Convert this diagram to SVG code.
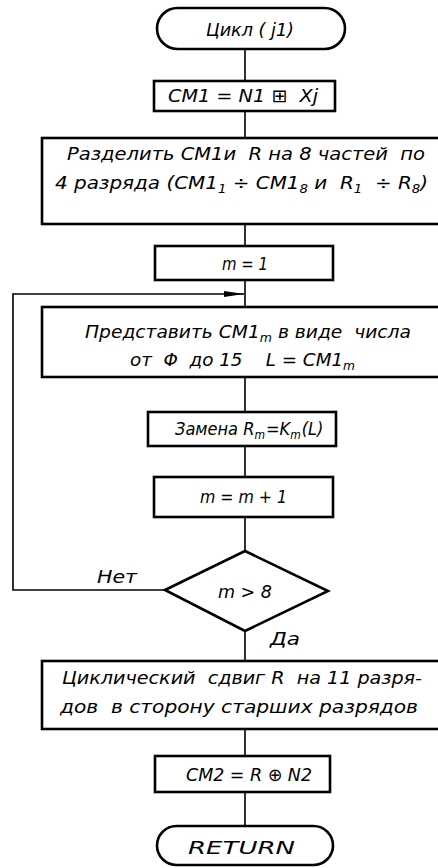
<svg xmlns="http://www.w3.org/2000/svg" width="438" height="868" viewBox="0 0 438 868">
<defs>
<marker id="arr" viewBox="0 0 20 8" refX="20" refY="4" markerWidth="20" markerHeight="8" markerUnits="userSpaceOnUse" orient="auto">
<path d="M0,1 L20,4 L0,7 Z" fill="#000"/>
</marker>
<style>
.s{fill:#fff;stroke:#000;stroke-width:2.6}
.c{fill:none;stroke:#000;stroke-width:1.6}
text{font-family:"DejaVu Sans Condensed","DejaVu Sans","Liberation Sans",sans-serif;font-style:italic;font-size:18px;fill:#000;white-space:pre}
.sub{font-size:12px}
</style>
</defs>
<rect width="438" height="868" fill="#fff"/>
<g id="connectors">
<path class="c" d="M245,49 V81 M245,111 V138 M245,224 V246 M245,280 V307 M245,377 V412 M245,446 V477 M245,517 V551 M245,631 V661 M245,729 V756 M245,792 V826"/>
<path class="c" d="M165,590 H13 V294 H244" marker-end="url(#arr)"/>
</g>
<g id="start">
<rect class="s" x="157" y="8" width="188" height="41" rx="20.5"/>
<text x="206" y="36" textLength="88" lengthAdjust="spacingAndGlyphs">Цикл ( j1)</text>
</g>
<g id="cm1">
<rect class="s" x="154" y="81" width="181" height="30"/>
<text x="168" y="102" textLength="150" lengthAdjust="spacingAndGlyphs">CM1 = N1 ⊞  Xj</text>
</g>
<g id="split">
<rect class="s" x="42" y="138" width="400" height="86"/>
<text x="67" y="160" textLength="358" lengthAdjust="spacingAndGlyphs">Разделить CM1и  R на 8 частей  по</text>
<text x="55" y="189" textLength="373" lengthAdjust="spacingAndGlyphs">4 разряда (CM1<tspan class="sub" dy="4">1</tspan><tspan dy="-4"> ÷ CM1</tspan><tspan class="sub" dy="4">8</tspan><tspan dy="-4"> и  R</tspan><tspan class="sub" dy="4">1</tspan><tspan dy="-4">  ÷ R</tspan><tspan class="sub" dy="4">8</tspan><tspan dy="-4">)</tspan></text>
</g>
<g id="m1">
<rect class="s" x="155" y="246" width="178" height="34"/>
<text x="222" y="270" textLength="46" lengthAdjust="spacingAndGlyphs">m = 1</text>
</g>
<g id="represent">
<rect class="s" x="42" y="307" width="400" height="70"/>
<text x="85" y="338" textLength="326" lengthAdjust="spacingAndGlyphs">Представить CM1<tspan class="sub" dy="4">m</tspan><tspan dy="-4"> в виде  числа</tspan></text>
<text x="130" y="366" textLength="225" lengthAdjust="spacingAndGlyphs">от  Φ  до 15    L = CM1<tspan class="sub" dy="4">m</tspan></text>
</g>
<g id="replace">
<rect class="s" x="148" y="412" width="188" height="34"/>
<text x="175" y="435">Замена R<tspan class="sub" dy="4">m</tspan><tspan dy="-4" dx="1">=K</tspan><tspan class="sub" dy="4">m</tspan><tspan dy="-4" dx="1">(L)</tspan></text>
</g>
<g id="inc">
<rect class="s" x="154" y="477" width="179" height="40"/>
<text x="200" y="503" textLength="87" lengthAdjust="spacingAndGlyphs">m = m + 1</text>
</g>
<g id="cond">
<polygon class="s" points="165,590 245,551 328,591 245,631"/>
<text x="218" y="598" textLength="54" lengthAdjust="spacingAndGlyphs">m &gt; 8</text>
<text x="97" y="583" textLength="40" lengthAdjust="spacingAndGlyphs">Нет</text>
<text x="270" y="645" textLength="30" lengthAdjust="spacingAndGlyphs">Да</text>
</g>
<g id="shift">
<rect class="s" x="42" y="661" width="400" height="68"/>
<text x="62" y="684" textLength="360" lengthAdjust="spacingAndGlyphs">Циклический  сдвиг R  на 11 разря-</text>
<text x="60" y="713" textLength="358" lengthAdjust="spacingAndGlyphs">дов  в сторону старших разрядов</text>
</g>
<g id="cm2">
<rect class="s" x="155" y="756" width="175" height="36"/>
<text x="186" y="781" textLength="126" lengthAdjust="spacingAndGlyphs">CM2 = R ⊕ N2</text>
</g>
<g id="end">
<rect class="s" x="157" y="826" width="176" height="39" rx="19.5"/>
<text x="188" y="854" textLength="107" lengthAdjust="spacingAndGlyphs">RETURN</text>
</g>
</svg>
